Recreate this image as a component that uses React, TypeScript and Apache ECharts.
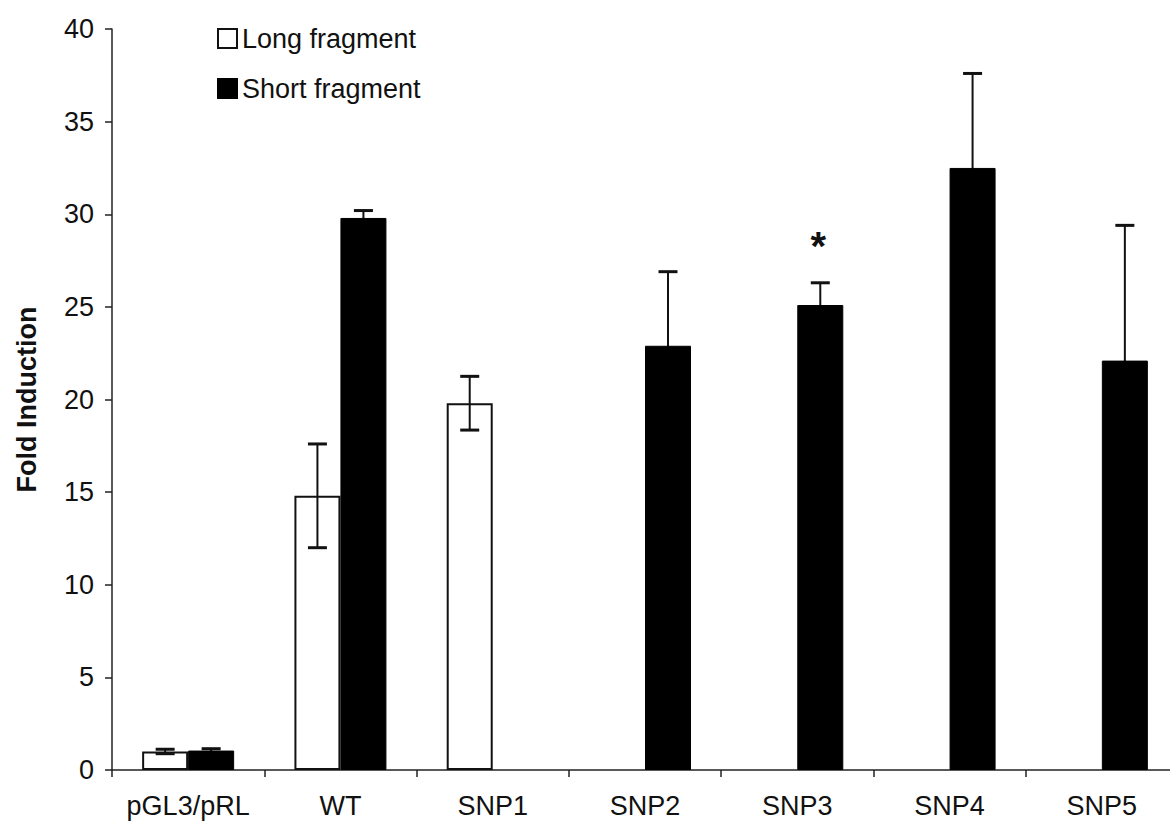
import React, { useEffect, useRef } from "react";
import * as echarts from "echarts";

const categories = ["pGL3/pRL", "WT", "SNP1", "SNP2", "SNP3", "SNP4", "SNP5"];
const longValues = [1.0, 14.8, 19.8, null, null, null, null];
const longErrors = [0.12, 2.8, 1.45, null, null, null, null];
const shortValues = [1.05, 29.8, null, 22.9, 25.1, 32.5, 22.1];
const shortErrors = [0.1, 0.4, null, 4.0, 1.2, 5.1, 7.3];
const yTicks = { min: 0, max: 40, interval: 5 };
const significance = [{ category: "SNP3", value: 28.3, text: "*" }];

const FONT = 'Arial, "Liberation Sans", sans-serif';
const BAR_W = 46;

export default function App() {
  const ref = useRef<HTMLDivElement>(null);
  useEffect(() => {
    document.body.style.margin = "0";
    const chart = echarts.init(ref.current!, null, { renderer: "svg" });

    const errSeries = (vals: (number | null)[], errs: (number | null)[], offset: number, name: string, z: number) => ({
      type: "custom",
      name,
      z,
      silent: true,
      data: vals
        .map((v, i) => (v == null || errs[i] == null ? null : [i, v, errs[i]]))
        .filter((d) => d != null),
      encode: { x: 0, y: 1 },
      renderItem: (params: any, api: any) => {
        const i = api.value(0);
        const v = api.value(1);
        const e = api.value(2);
        const top = api.coord([i, v + e]);
        const bot = api.coord([i, v - e]);
        const x = top[0] + offset;
        const cap = 9.5;
        const style = { stroke: "#111", lineWidth: 2 };
        return {
          type: "group",
          children: [
            { type: "line", shape: { x1: x, y1: top[1], x2: x, y2: bot[1] }, style },
            { type: "line", shape: { x1: x - cap, y1: top[1], x2: x + cap, y2: top[1] }, style: { stroke: "#111", lineWidth: 3 } },
            { type: "line", shape: { x1: x - cap, y1: bot[1], x2: x + cap, y2: bot[1] }, style: { stroke: "#111", lineWidth: 3 } },
          ],
        };
      },
    });

    chart.setOption({
      animation: false,
      backgroundColor: "#fff",
      textStyle: { fontFamily: FONT },
      grid: { left: 112, right: 2, top: 29, bottom: 54, containLabel: false },
      legend: {
        orient: "vertical",
        left: 217,
        top: 25,
        padding: 0,
        itemWidth: 19,
        itemHeight: 19,
        itemGap: 23,
        icon: "rect",
        data: ["Long fragment", "Short fragment"],
        textStyle: { fontSize: 27, color: "#111", fontFamily: FONT, padding: [0, 0, 0, 0] },
      },
      xAxis: {
        type: "category",
        data: categories,
        axisLine: { lineStyle: { color: "#222", width: 1.5 } },
        axisTick: { show: true, length: 7, alignWithLabel: false, lineStyle: { color: "#222", width: 1.5 } },
        axisLabel: { fontSize: 27, color: "#111", margin: 22, interval: 0, fontFamily: FONT },
        splitLine: { show: false },
      },
      yAxis: {
        type: "value",
        min: yTicks.min,
        max: yTicks.max,
        interval: yTicks.interval,
        name: "Fold Induction",
        nameLocation: "middle",
        nameGap: 72,
        nameTextStyle: { fontSize: 27, fontWeight: "bold", color: "#111", fontFamily: FONT },
        axisLine: { show: true, lineStyle: { color: "#222", width: 1.5 } },
        axisTick: { show: true, length: 7, lineStyle: { color: "#222", width: 1.5 } },
        axisLabel: { fontSize: 27, color: "#111", margin: 18, fontFamily: FONT },
        splitLine: { show: false },
      },
      series: [
        {
          name: "Long fragment",
          type: "bar",
          z: 3,
          data: longValues,
          barWidth: BAR_W,
          barGap: "0%",
          itemStyle: { color: "#fff", borderColor: "#111", borderWidth: 2 },
        },
        {
          name: "Short fragment",
          type: "bar",
          z: 3,
          data: shortValues,
          barWidth: BAR_W,
          barGap: "0%",
          itemStyle: { color: "#000", borderColor: "#000", borderWidth: 1 },
        },
        errSeries(longValues, longErrors, -BAR_W / 2, "longErr", 5),
        errSeries(shortValues, shortErrors, BAR_W / 2, "shortErr", 1),
        {
          type: "custom",
          name: "sig",
          z: 6,
          silent: true,
          data: significance.map((s) => [categories.indexOf(s.category), s.value, s.text]),
          encode: { x: 0, y: 1 },
          renderItem: (params: any, api: any) => {
            const p = api.coord([api.value(0), api.value(1)]);
            return {
              type: "text",
              x: p[0] + BAR_W / 2 - 2,
              y: p[1],
              style: {
                text: significance[params.dataIndex].text,
                fontSize: 40,
                fontWeight: "bold",
                fontFamily: FONT,
                fill: "#111",
                align: "center",
                verticalAlign: "middle",
              },
            };
          },
        },
      ],
    });
    return () => chart.dispose();
  }, []);
  return (
    <div style={{ width: 1170, height: 824, overflow: "hidden" }}>
      <div ref={ref} style={{ width: 1180, height: 824 }} />
    </div>
  );
}
